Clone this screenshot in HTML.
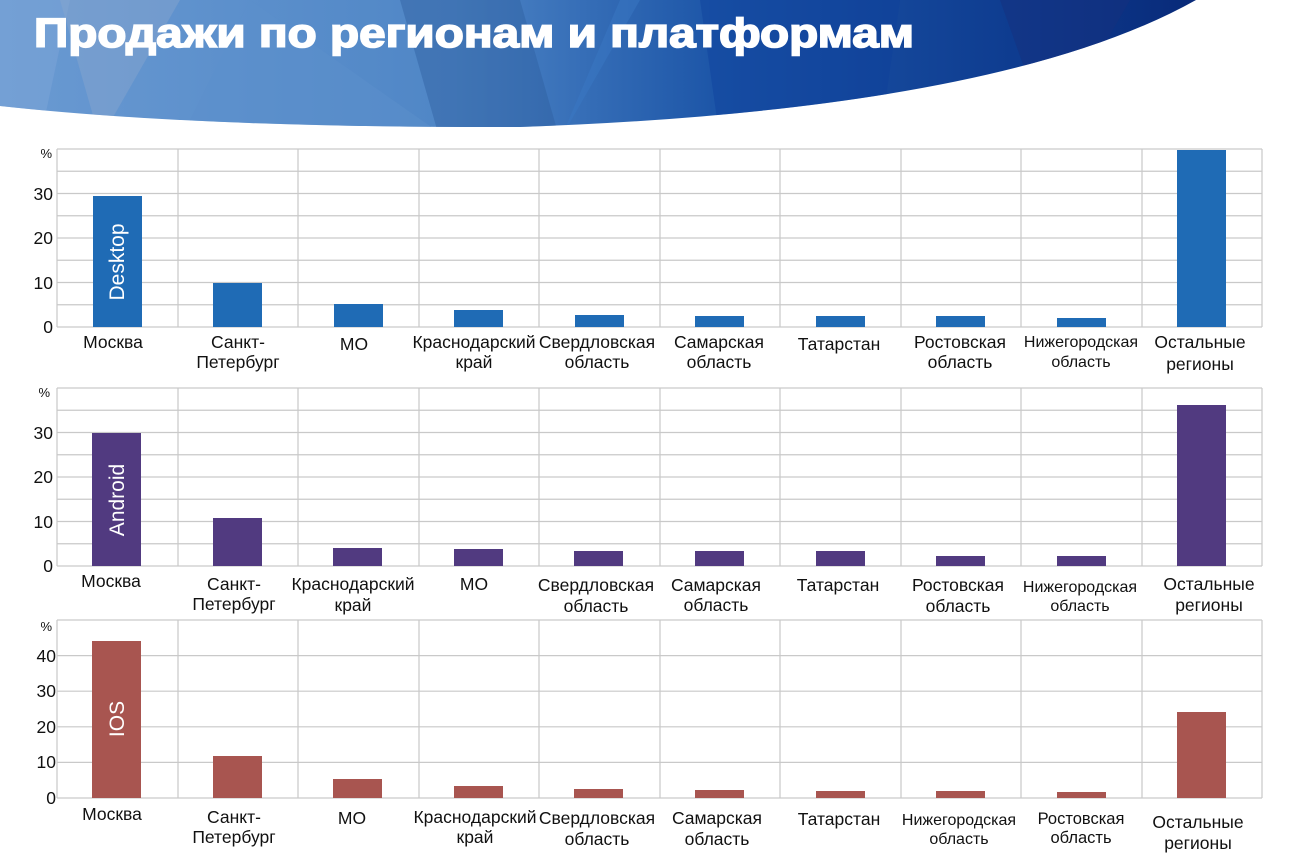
<!DOCTYPE html>
<html><head><meta charset="utf-8"><style>
html,body{margin:0;padding:0;background:#fff;}
svg{display:block;font-family:"Liberation Sans","DejaVu Sans",sans-serif;}
</style></head><body>
<svg width="1296" height="857" viewBox="0 0 1296 857" xmlns="http://www.w3.org/2000/svg">
<defs>
<linearGradient id="bg" x1="0" y1="0" x2="1" y2="0">
<stop offset="0" stop-color="#6a9ad2"/><stop offset="0.35" stop-color="#4f86c6"/><stop offset="0.55" stop-color="#1d56a8"/><stop offset="0.8" stop-color="#0d3a8e"/><stop offset="1" stop-color="#06206b"/>
</linearGradient>
<clipPath id="cp"><path d="M0,0 H1196 Q1000,110 520,127 Q200,128 0,106 Z"/></clipPath>
</defs>
<g clip-path="url(#cp)">
<rect x="0" y="0" width="1296" height="140" fill="url(#bg)"/>
<polygon points="0,0 70,0 40,140 0,140" fill="#7ea6d8" opacity="0.5"/>
<polygon points="60,0 180,0 100,140" fill="#8aa7cf" opacity="0.45"/>
<polygon points="250,0 450,140 180,140" fill="#5b8fcb" opacity="0.5"/>
<polygon points="400,0 520,0 560,140 440,140" fill="#2f5f9f" opacity="0.45"/>
<polygon points="620,0 640,0 560,140" fill="#3a78c4" opacity="0.5"/>
<polygon points="700,0 900,0 880,140 720,140" fill="#0c3f9a" opacity="0.4"/>
<polygon points="1000,0 1130,0 1050,140" fill="#15307e" opacity="0.5"/>
</g>
<text x="34" y="47" fill="#fff" stroke="#fff" stroke-width="1.6" font-size="41" font-weight="bold" textLength="880" lengthAdjust="spacingAndGlyphs">Продажи по регионам и платформам</text>

<!-- Chart 1 -->
<g stroke="#c9c9c9" stroke-width="1.2" fill="none">
<path d="M57,149H1262M57,171.25H1262M57,193.5H1262M57,215.75H1262M57,238H1262M57,260.25H1262M57,282.5H1262M57,304.75H1262M57,327H1262"/>
<path d="M57,149V327M178,149V327M298,149V327M419,149V327M539,149V327M660,149V327M780,149V327M901,149V327M1021,149V327M1142,149V327M1262,149V327"/>
</g>
<g fill="#1f6bb5">
<rect x="93" y="196" width="49" height="131"/><rect x="213" y="283" width="49" height="44"/><rect x="334" y="304" width="49" height="23"/><rect x="454" y="310" width="49" height="17"/><rect x="575" y="315" width="49" height="12"/><rect x="695" y="316" width="49" height="11"/><rect x="816" y="316" width="49" height="11"/><rect x="936" y="316" width="49" height="11"/><rect x="1057" y="318" width="49" height="9"/><rect x="1177" y="150" width="49" height="177"/>
</g>
<text transform="translate(124,262) rotate(-90)" fill="#fff" font-size="21" text-anchor="middle">Desktop</text>
<g font-size="17.5" fill="#111" text-anchor="end">
<text x="53" y="200">30</text><text x="53" y="244">20</text><text x="53" y="289">10</text><text x="53" y="333">0</text>
</g>
<text x="52" y="158" font-size="13" text-anchor="end" fill="#111">%</text>
<g font-size="17.5" fill="#111" text-anchor="middle">
<text x="113" y="348">Москва</text>
<text x="238" y="348">Санкт-</text><text x="238" y="368">Петербург</text>
<text x="354" y="350">МО</text>
<text x="474" y="348">Краснодарский</text><text x="474" y="368">край</text>
<text x="597" y="348">Свердловская</text><text x="597" y="368">область</text>
<text x="719" y="348">Самарская</text><text x="719" y="368">область</text>
<text x="839" y="350">Татарстан</text>
<text x="960" y="348">Ростовская</text><text x="960" y="368">область</text>
<text x="1081" y="347" font-size="16">Нижегородская</text><text x="1081" y="367" font-size="16">область</text>
<text x="1200" y="348">Остальные</text><text x="1200" y="370">регионы</text>
</g>

<!-- Chart 2 -->
<g stroke="#c9c9c9" stroke-width="1.2" fill="none">
<path d="M57,388H1262M57,410.25H1262M57,432.5H1262M57,454.75H1262M57,477H1262M57,499.25H1262M57,521.5H1262M57,543.75H1262M57,566H1262"/>
<path d="M57,388V566M178,388V566M298,388V566M419,388V566M539,388V566M660,388V566M780,388V566M901,388V566M1021,388V566M1142,388V566M1262,388V566"/>
</g>
<g fill="#513a80">
<rect x="92" y="433" width="49" height="133"/><rect x="213" y="518" width="49" height="48"/><rect x="333" y="548" width="49" height="18"/><rect x="454" y="549" width="49" height="17"/><rect x="574" y="551" width="49" height="15"/><rect x="695" y="551" width="49" height="15"/><rect x="816" y="551" width="49" height="15"/><rect x="936" y="556" width="49" height="10"/><rect x="1057" y="556" width="49" height="10"/><rect x="1177" y="405" width="49" height="161"/>
</g>
<text transform="translate(124,500) rotate(-90)" fill="#fff" font-size="21" text-anchor="middle">Android</text>
<g font-size="17.5" fill="#111" text-anchor="end">
<text x="53" y="439">30</text><text x="53" y="483">20</text><text x="53" y="528">10</text><text x="53" y="572">0</text>
</g>
<text x="50" y="397" font-size="13" text-anchor="end" fill="#111">%</text>
<g font-size="17.5" fill="#111" text-anchor="middle">
<text x="111" y="587">Москва</text>
<text x="234" y="590">Санкт-</text><text x="234" y="610">Петербург</text>
<text x="353" y="590">Краснодарский</text><text x="353" y="611">край</text>
<text x="474" y="590">МО</text>
<text x="596" y="591">Свердловская</text><text x="596" y="612">область</text>
<text x="716" y="591">Самарская</text><text x="716" y="611">область</text>
<text x="838" y="591">Татарстан</text>
<text x="958" y="591">Ростовская</text><text x="958" y="612">область</text>
<text x="1080" y="592" font-size="16">Нижегородская</text><text x="1080" y="611" font-size="16">область</text>
<text x="1209" y="590">Остальные</text><text x="1209" y="611">регионы</text>
</g>

<!-- Chart 3 -->
<g stroke="#c9c9c9" stroke-width="1.2" fill="none">
<path d="M57,620H1262M57,655.6H1262M57,691.2H1262M57,726.8H1262M57,762.4H1262M57,798H1262"/>
<path d="M57,620V798M178,620V798M298,620V798M419,620V798M539,620V798M660,620V798M780,620V798M901,620V798M1021,620V798M1142,620V798M1262,620V798"/>
</g>
<g fill="#a85550">
<rect x="92" y="641" width="49" height="157"/><rect x="213" y="756" width="49" height="42"/><rect x="333" y="779" width="49" height="19"/><rect x="454" y="786" width="49" height="12"/><rect x="574" y="789" width="49" height="9"/><rect x="695" y="790" width="49" height="8"/><rect x="816" y="791" width="49" height="7"/><rect x="936" y="791" width="49" height="7"/><rect x="1057" y="792" width="49" height="6"/><rect x="1177" y="712" width="49" height="86"/>
</g>
<text transform="translate(124,719) rotate(-90)" fill="#fff" font-size="21" text-anchor="middle">IOS</text>
<g font-size="17.5" fill="#111" text-anchor="end">
<text x="56" y="662">40</text><text x="56" y="697">30</text><text x="56" y="733">20</text><text x="56" y="768">10</text><text x="56" y="804">0</text>
</g>
<text x="52" y="631" font-size="13" text-anchor="end" fill="#111">%</text>
<g font-size="17.5" fill="#111" text-anchor="middle">
<text x="112" y="820">Москва</text>
<text x="234" y="823">Санкт-</text><text x="234" y="843">Петербург</text>
<text x="352" y="824">МО</text>
<text x="475" y="823">Краснодарский</text><text x="475" y="843">край</text>
<text x="597" y="824">Свердловская</text><text x="597" y="845">область</text>
<text x="717" y="824">Самарская</text><text x="717" y="845">область</text>
<text x="839" y="825">Татарстан</text>
<text x="959" y="825" font-size="16">Нижегородская</text><text x="959" y="844" font-size="16">область</text>
<text x="1081" y="824" font-size="16.5">Ростовская</text><text x="1081" y="843" font-size="16.5">область</text>
<text x="1198" y="828">Остальные</text><text x="1198" y="849">регионы</text>
</g>
</svg>
</body></html>
